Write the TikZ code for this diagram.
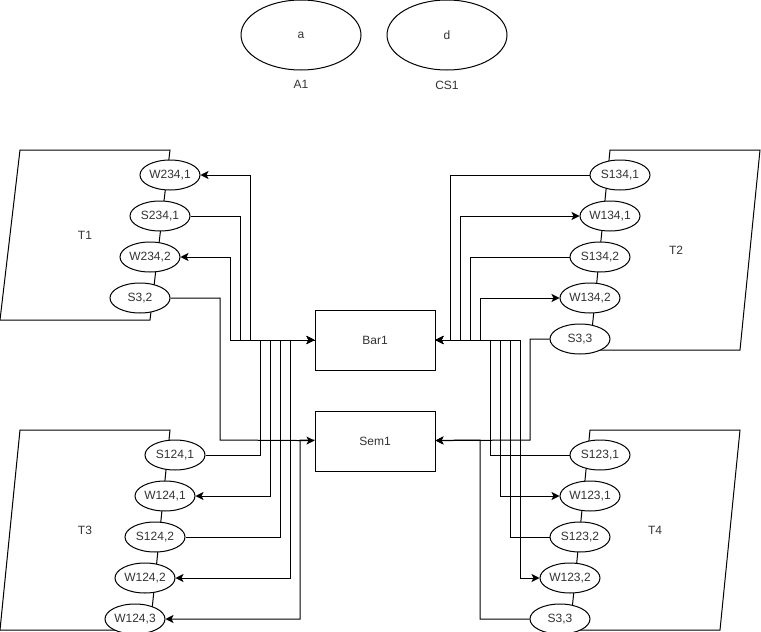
\documentclass[tikz,border=0pt]{standalone}
\usepackage{fontspec}
\setmainfont{Liberation Sans}
\usetikzlibrary{arrows.meta,positioning,shapes.geometric}
\definecolor{LineDark}{HTML}{000000}
\definecolor{TextDark}{HTML}{333333}
\tikzset{
  statenode/.style={draw=LineDark,fill=white,ellipse,minimum width=60pt,minimum height=30pt,inner sep=0pt,line width=1pt,align=center,font=\fontsize{12pt}{14pt}\selectfont,text=TextDark},
  varnode/.style={draw=LineDark,fill=white,ellipse,minimum width=120pt,minimum height=70pt,inner sep=0pt,line width=1pt,align=center,font=\fontsize{12pt}{14pt}\selectfont,text=TextDark},
  syncnode/.style={draw=LineDark,fill=white,minimum width=120pt,minimum height=60pt,inner sep=0pt,line width=1pt,align=center,font=\fontsize{12pt}{14pt}\selectfont,text=TextDark},
  threadbox/.style={draw=LineDark,line width=1pt},
  labelnode/.style={inner sep=0pt,font=\fontsize{12pt}{14pt}\selectfont,text=TextDark},
  arrow/.style={-{Stealth[length=8pt,width=8pt,inset=2pt]},line width=1pt,draw=LineDark}
}
\begin{document}
\begin{tikzpicture}[x=1pt,y=-1pt,node distance=10pt and 10pt]
\useasboundingbox (0,0) rectangle (761,632);
\node[varnode] at (301,35) (a1) {a};
\node[varnode,right=25pt of a1] (cs1) {d};
\node[labelnode,below=10pt of a1] (a1name) {A1};
\node[labelnode,below=10pt of cs1] (cs1name) {CS1};
\draw[threadbox] (20,150) -- (170,150) -- (150,320) -- (0,320) -- cycle;
\draw[threadbox] (610,150) -- (760,150) -- (740,350) -- (590,350) -- cycle;
\draw[threadbox] (20,430) -- (170,430) -- (150,630) -- (0,630) -- cycle;
\draw[threadbox] (590,430) -- (740,430) -- (720,630) -- (570,630) -- cycle;
\node[labelnode] at (85,235) (t1) {T1};
\node[labelnode] at (676,250) (t2) {T2};
\node[labelnode] at (85,530) (t3) {T3};
\node[labelnode] at (655,530) (t4) {T4};
\node[syncnode] at (375,340) (bar1) {Bar1};
\node[syncnode,below=40pt of bar1] (sem1) {Sem1};
\node[statenode] at (170,175) (w2341) {W234,1};
\node[statenode,below=of w2341,xshift=-10pt] (s2341) {S234,1};
\node[statenode,below=of s2341,xshift=-10pt] (w2342) {W234,2};
\node[statenode,below=of w2342,xshift=-10pt] (s32) {S3,2};
\node[statenode] at (620,175) (s1341) {S134,1};
\node[statenode,below=of s1341,xshift=-10pt] (w1341) {W134,1};
\node[statenode,below=of w1341,xshift=-10pt] (s1342) {S134,2};
\node[statenode,below=of s1342,xshift=-10pt] (w1342) {W134,2};
\node[statenode,below=of w1342,xshift=-10pt] (s33a) {S3,3};
\node[statenode] at (175,455) (s1241) {S124,1};
\node[statenode,below=of s1241,xshift=-10pt] (w1241) {W124,1};
\node[statenode,below=of w1241,xshift=-10pt] (s1242) {S124,2};
\node[statenode,below=of s1242,xshift=-10pt] (w1242) {W124,2};
\node[statenode,below=of w1242,xshift=-10pt] (w1243) {W124,3};
\node[statenode] at (600,455) (s1231) {S123,1};
\node[statenode,below=of s1231,xshift=-10pt] (w1231) {W123,1};
\node[statenode,below=of w1231,xshift=-10pt] (s1232) {S123,2};
\node[statenode,below=of s1232,xshift=-10pt] (w1232) {W123,2};
\node[statenode,below=of w1232,xshift=-10pt] (s33b) {S3,3};
\draw[arrow] (bar1) -- (250,340) |- (w2341);
\draw[arrow] (s2341) -| (240,340) -- (bar1);
\draw[arrow] (bar1) -- (230,340) |- (w2342);
\draw[arrow] (s32) -| (220,440) -- (sem1);
\draw[arrow] (s1241) -| (260,340) -- (bar1);
\draw[arrow] (bar1) -- (270,340) |- (w1241);
\draw[arrow] (s1242) -| (280,340) -- (bar1);
\draw[arrow] (bar1) -- (290,340) |- (w1242);
\draw[arrow] (sem1) -- (300,440) |- (w1243);
\draw[arrow] (s1341) -| (450,340) -- (bar1);
\draw[arrow] (bar1) -- (460,340) |- (w1341);
\draw[arrow] (s1342) -| (470,340) -- (bar1);
\draw[arrow] (bar1) -- (480,340) |- (w1342);
\draw[arrow] (s33a) -| (530,440) -- (sem1);
\draw[arrow] (s1231) -| (490,340) -- (bar1);
\draw[arrow] (bar1) -- (500,340) |- (w1231);
\draw[arrow] (s1232) -| (510,340) -- (bar1);
\draw[arrow] (bar1) -- (520,340) |- (w1232);
\draw[arrow] (s33b) -| (480,440) -- (sem1);
\end{tikzpicture}
\end{document}
